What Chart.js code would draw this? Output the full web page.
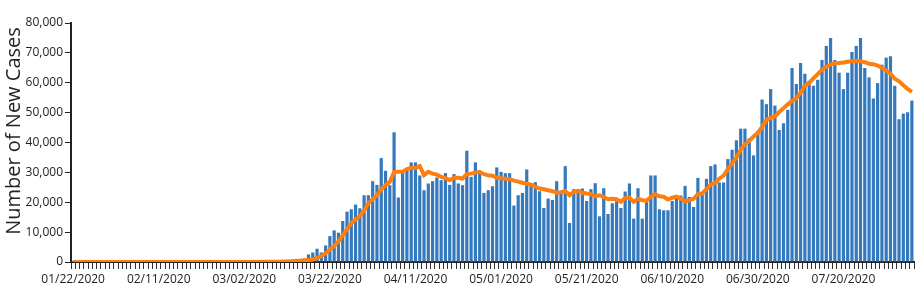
<!DOCTYPE html>
<html lang="en">
<head>
  <meta charset="UTF-8">
  <title>Number of New Cases</title>
  <script src="https://cdn.jsdelivr.net/npm/chart.js"></script>
  <style>
    body { margin: 0; background: #fff; }
    #wrap { width: 921px; height: 299px; }
  </style>
</head>
<body>
  <div id="wrap"><canvas id="casesChart" width="921" height="299"></canvas></div>
  <script>
    // first day of the series, one bar per day after that
    const startDate = new Date(2020, 0, 22);
    const dayCount = 197;
    const tickLabels = ['01/22/2020', '02/11/2020', '03/02/2020', '03/22/2020', '04/11/2020',
                        '05/01/2020', '05/21/2020', '06/10/2020', '06/30/2020', '07/20/2020'];
    const yTicks = [0, 10000, 20000, 30000, 40000, 50000, 60000, 70000, 80000];

    // daily new cases (bars)
    const newCases = [
      1, 0, 1, 0, 3, 0, 0, 0, 0, 2,
      1, 0, 3, 0, 0, 0, 0, 0, 0, 1,
      0, 0, 1, 0, 0, 0, 0, 0, 0, 0,
      1, 0, 0, 12, 0, 18, 0, 2, 5, 8,
      23, 20, 33, 74, 68, 107, 115, 166, 118, 292,
      269, 398, 477, 712, 1100, 2520, 3190, 4440, 3190, 5550,
      8670, 10590, 9810, 13710, 16870, 17650, 19220, 17980, 22350, 22350,
      27060, 25810, 34790, 30520, 25710, 43420, 21580, 30320, 31320, 33340,
      33340, 28970, 24030, 26280, 27060, 28300, 27390, 29740, 25810, 29410,
      26280, 25710, 37240, 28500, 33340, 29640, 23120, 24030, 25370, 31660,
      30180, 29740, 29740, 18890, 22350, 23120, 30990, 25710, 26720, 23700,
      18080, 21240, 20770, 27060, 23700, 32100, 13040, 24370, 24370, 24600,
      20430, 24370, 26380, 15290, 24700, 16070, 19660, 20330, 18080, 23590,
      26280, 14520, 24700, 14520, 20100, 28970, 28970, 17650, 17310, 17310,
      20430, 21240, 22250, 25480, 21780, 18420, 28160, 22450, 27830, 32100,
      32670, 26620, 26620, 34450, 37580, 40740, 44630, 44630, 41410, 35690,
      43860, 54380, 52830, 57880, 52360, 44200, 46450, 50920, 64930, 59560,
      66610, 63020, 60670, 58990, 61000, 67620, 72330, 75020, 67620, 63360,
      57880, 63360, 70310, 72330, 75020, 64930, 61780, 54720, 59890, 66040,
      68400, 68830, 58990, 47790, 49670, 50150, 54050
    ];

    // orange trend line
    const trendLine = [
      0, 0, 0, 0, 0, 0, 0, 0, 0, 0,
      0, 0, 0, 0, 0, 0, 0, 0, 0, 0,
      0, 0, 0, 0, 0, 0, 0, 0, 0, 0,
      0, 0, 0, 2, 2, 4, 4, 4, 5, 6,
      9, 12, 15, 25, 35, 50, 60, 80, 110, 150,
      200, 260, 330, 430, 550, 700, 860, 1340, 2020, 2860,
      4200, 5380, 6890, 8900, 10920, 12940, 14280, 15290, 17310, 19660,
      21010, 22350, 24370, 25710, 26820, 30080, 30250, 30250, 31090, 31430,
      31530, 32100, 29070, 30180, 29580, 29240, 28500, 28060, 27390, 28230,
      28230, 27960, 29410, 29580, 29910, 30180, 29410, 29070, 28900, 28160,
      28060, 27900, 27730, 27220, 26890, 26550, 26220, 25880, 25210, 24600,
      24370, 24030, 23700, 23190, 23360, 23800, 22350, 23460, 23760, 23190,
      22920, 22690, 22010, 22350, 21750, 21010, 21170, 21010, 20170, 21340,
      21580, 20100, 21170, 20670, 20500, 21780, 22690, 22010, 21850, 20910,
      21510, 21850, 21170, 20330, 20670, 21170, 22690, 22920, 24370, 25880,
      26380, 27900, 28900, 31090, 33110, 34950, 37640, 39320, 40500, 42010,
      43190, 45200, 47560, 48230, 48730, 50250, 51490, 52770, 53940, 54780,
      56630, 58990, 59830, 61510, 62850, 64360, 65370, 66040, 66550, 66610,
      66780, 67050, 67220, 67390, 67220, 66880, 66380, 66210, 65710, 65040,
      64030, 63020, 61340, 60500, 59150, 57980, 56970
    ];

    function pad2(n) { return n < 10 ? '0' + n : '' + n; }
    const categories = [];
    for (let i = 0; i < dayCount; i++) {
      const d = new Date(startDate.getFullYear(), startDate.getMonth(), startDate.getDate() + i);
      categories.push(pad2(d.getMonth() + 1) + '/' + pad2(d.getDate()) + '/' + d.getFullYear());
    }

    Chart.defaults.font.family = "'Open Sans', sans-serif";
    Chart.defaults.color = '#222';

    // y axis title drawn by hand so it sits where the original has it
    const yTitle = {
      id: 'yTitle',
      afterDraw(chart) {
        const ctx = chart.ctx;
        ctx.save();
        ctx.translate(14, 131);
        ctx.rotate(-Math.PI / 2);
        ctx.font = "20px 'Open Sans', sans-serif";
        ctx.fillStyle = '#222';
        ctx.textAlign = 'center';
        ctx.textBaseline = 'middle';
        ctx.fillText('Number of New Cases', 0, 0);
        ctx.restore();
      }
    };

    new Chart(document.getElementById('casesChart'), {
      type: 'bar',
      data: {
        labels: categories,
        datasets: [{
          type: 'line',
          data: trendLine,
          borderColor: '#ff7f0e',
          borderWidth: 4,
          pointRadius: 0,
          tension: 0,
          order: 0
        }, {
          type: 'bar',
          data: newCases,
          backgroundColor: '#3478bd',
          barPercentage: 0.75,
          categoryPercentage: 1,
          order: 1
        }]
      },
      options: {
        responsive: false,
        animation: false,
        layout: { padding: { top: 23, right: 7, bottom: 0, left: 0 } },
        plugins: { legend: { display: false }, tooltip: { enabled: false } },
        scales: {
          x: {
            afterFit(scale) { scale.height = 37; },
            grid: { drawOnChartArea: false, drawTicks: true, tickLength: 7, color: '#333' },
            border: { display: true, color: '#222', width: 2 },
            ticks: {
              autoSkip: false,
              maxRotation: 0,
              padding: 3,
              font: { size: 12 },
              callback(value, index) {
                const lab = categories[index];
                return tickLabels.includes(lab) ? lab : '';
              }
            }
          },
          y: {
            min: 0,
            max: 80000,
            afterFit(scale) { scale.width = 71; },
            afterBuildTicks(scale) { scale.ticks = yTicks.map(v => ({ value: v })); },
            grid: { drawOnChartArea: false, drawTicks: true, tickLength: 6, color: '#222' },
            border: { display: true, color: '#222', width: 2 },
            ticks: {
              padding: 2,
              font: { size: 12 },
              callback(value) { return value.toLocaleString('en-US'); }
            }
          }
        }
      },
      plugins: [yTitle]
    });
  </script>
</body>
</html>
